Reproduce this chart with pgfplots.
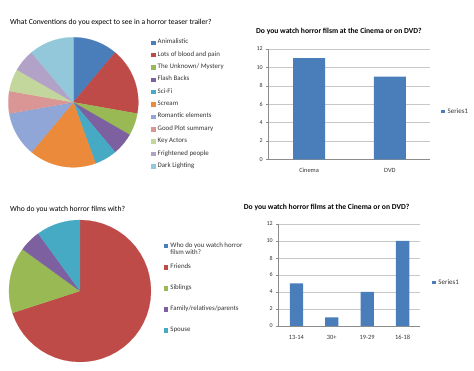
\documentclass[border=0pt]{standalone}
\usepackage{pgfplots}
\pgfplotsset{compat=1.18}
\usepackage{fontspec}
\setmainfont{Carlito}
\definecolor{pA}{HTML}{4A7EBB}
\definecolor{pB}{HTML}{BE4B48}
\definecolor{pC}{HTML}{98B954}
\definecolor{pD}{HTML}{7D60A0}
\definecolor{pE}{HTML}{46AAC5}
\definecolor{pF}{HTML}{EC8A3C}
\definecolor{pG}{HTML}{8FA6D6}
\definecolor{pH}{HTML}{D99694}
\definecolor{pI}{HTML}{C3D69B}
\definecolor{pJ}{HTML}{B3A2C7}
\definecolor{pK}{HTML}{93C8DA}
\definecolor{gridc}{HTML}{C8C8C8}
\definecolor{axc}{HTML}{8C8C8C}
\definecolor{txt}{HTML}{333333}
% slice: colour, cumulative start, cumulative end, total (Excel: clockwise from 12 o'clock)
\newcommand{\pieslice}[4]{%
  \pgfmathsetmacro{\pa}{90-360*(#3)/(#4)}%
  \pgfmathsetmacro{\pb}{90-360*(#2)/(#4)}%
  \addplot[fill=#1, draw=#1, line width=0.1pt, domain=\pa:\pb, samples=40] ({cos(x)},{sin(x)}) -- (axis cs:0,0) -- cycle;
}
\pgfplotsset{
  pieaxis/.style={scale only axis, hide axis, clip=false,
    xmin=-1, xmax=1, ymin=-1, ymax=1, anchor=south west,
    legend image code/.code={\fill[##1] (0pt,-1.75pt) rectangle (3.5pt,1.75pt);},
    legend cell align=left,
  },
  baraxis/.style={scale only axis, clip=false, anchor=south west,
    axis x line*=bottom, axis y line*=left,
    axis line style={draw=axc, line width=0.5pt},
    ymin=0, ymax=12, ytick={0,2,...,12},
    ymajorgrids, grid style={draw=gridc, line width=0.5pt},
    tick align=outside, major tick length=2.5pt,
    ytick style={draw=axc, line width=0.5pt},
    xtick style={draw=none},
    extra x tick style={tick style={draw=axc, line width=0.5pt}, major tick length=3pt},
    /pgf/number format/assume math mode=true,
    yticklabel style={font=\fontsize{6}{7}\selectfont, text=txt},
    xticklabel style={font=\fontsize{6.4}{7}\selectfont, text=txt, yshift=-3pt},
    legend style={draw=none, fill=none, font=\fontsize{7}{8}\selectfont, text=txt, anchor=west,
      nodes={inner sep=0.6pt}, column sep=2.2pt},
  },
}
\begin{document}
\begin{tikzpicture}
\path[use as bounding box] (0pt,0pt) rectangle (474pt,371pt);

% ---------- Pie 1 ----------
\begin{axis}[pieaxis, at={(8.3pt,203.7pt)}, width=130pt, height=130pt,
  title={What Conventions do you expect to see in a horror teaser trailer?},
  title style={at={(axis description cs:0.013,1.071)}, anchor=west, inner sep=0pt,
    font=\fontsize{7.6}{9}\selectfont, text=black},
  legend style={at={(axis description cs:1.075,1.006)}, anchor=north west, draw=none, fill=none,
    font=\fontsize{6.9}{8}\selectfont, text=txt, row sep=5.16pt, column sep=2.2pt,
    nodes={inner sep=0.6pt, text height=4.5pt, text depth=1.5pt}},
]
\pieslice{pA}{0}{2}{18}
\pieslice{pB}{2}{5}{18}
\pieslice{pC}{5}{6}{18}
\pieslice{pD}{6}{7}{18}
\pieslice{pE}{7}{8}{18}
\pieslice{pF}{8}{11}{18}
\pieslice{pG}{11}{13}{18}
\pieslice{pH}{13}{14}{18}
\pieslice{pI}{14}{15}{18}
\pieslice{pJ}{15}{16}{18}
\pieslice{pK}{16}{18}{18}
\legend{Animalistic, Lots of blood and pain, The Unknown/ Mystery, Flash Backs, Sci-Fi, Scream,
  Romantic elements, Good Plot summary, Key Actors, Frightened people, Dark Lighting}
\end{axis}

% ---------- Bar 1 ----------
\begin{axis}[baraxis, at={(268.7pt,211.7pt)}, width=161.6pt, height=110.3pt,
  xmin=-0.5, xmax=1.5, xtick={0,1}, xticklabels={Cinema,DVD},
  extra x ticks={-0.5,0.5,1.5}, extra x tick labels={},
  title={Do you watch horror filsm at the Cinema or on DVD?},
  title style={at={(axis description cs:-0.0786,1.108)}, anchor=west, inner sep=0pt,
    font=\bfseries\fontsize{7.6}{9}\selectfont, text=black},
  legend style={at={(axis description cs:1.048,0.4316)}},
]
\addplot[ybar, bar width=32pt, bar shift=0pt, fill=pA, draw=none,
  legend image code/.code={\fill[pA] (0pt,-1.75pt) rectangle (3.5pt,1.75pt);}]
  coordinates {(0,11) (1,9)};
\addlegendentry{Series1}
\end{axis}

% ---------- Pie 2 ----------
\begin{axis}[pieaxis, at={(9pt,9pt)}, width=142pt, height=142pt,
  title={Who do you watch horror films with?},
  title style={at={(axis description cs:0.007,1.031)}, anchor=west, inner sep=0pt,
    font=\fontsize{7.6}{9}\selectfont, text=black},
  legend style={at={(axis description cs:1.067,0.859)}, anchor=north west, draw=none, fill=none,
    font=\fontsize{6.9}{8}\selectfont, text=txt, row sep=13.8pt, column sep=2.2pt,
    nodes={inner sep=0.6pt, text height=4.5pt, text depth=1.5pt}},
]
% first category has the value 0: legend entry only
\addlegendimage{fill=pA, draw=pA}
\pieslice{pB}{0}{14}{20}
\pieslice{pC}{14}{17}{20}
\pieslice{pD}{17}{18}{20}
\pieslice{pE}{18}{20}{20}
\legend{{\begin{tabular}[t]{@{}l@{}}Who do you watch horror\\[-1pt]filsm with?\end{tabular}},
  Friends, Siblings, Family/relatives/parents, Spouse}
\end{axis}

% ---------- Bar 2 ----------
\begin{axis}[baraxis, at={(278.7pt,45pt)}, width=141.6pt, height=102pt,
  xmin=-0.5, xmax=3.5, xtick={0,1,2,3}, xticklabels={13-14,30+,19-29,16-18},
  extra x ticks={-0.5,0.5,1.5,2.5,3.5}, extra x tick labels={},
  title={Do you watch horror films at the Cinema or on DVD?},
  title style={at={(axis description cs:-0.247,1.101)}, anchor=west, inner sep=0pt,
    font=\bfseries\fontsize{7.6}{9}\selectfont, text=black},
  legend style={at={(axis description cs:1.061,0.4245)}},
]
\addplot[ybar, bar width=13.3pt, bar shift=0pt, fill=pA, draw=none,
  legend image code/.code={\fill[pA] (0pt,-1.75pt) rectangle (3.5pt,1.75pt);}]
  coordinates {(0,5) (1,1) (2,4) (3,10)};
\addlegendentry{Series1}
\end{axis}
\end{tikzpicture}
\end{document}
